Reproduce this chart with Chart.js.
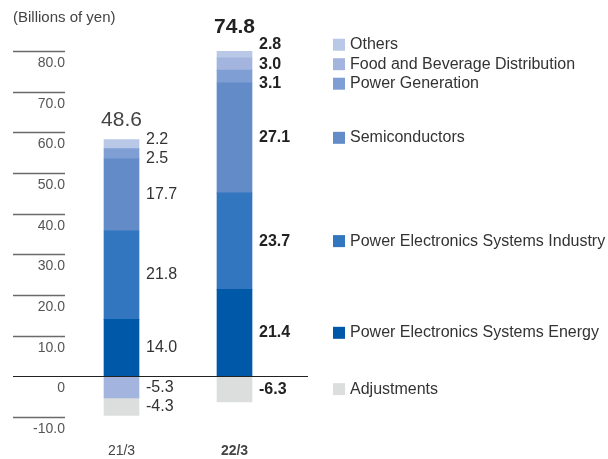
<!DOCTYPE html>
<html>
<head>
<meta charset="utf-8">
<script src="https://cdn.jsdelivr.net/npm/chart.js@4"></script>
<style>
  html, body { margin: 0; padding: 0; background: #fff; }
</style>
</head>
<body>
<canvas id="chart" width="608" height="459"></canvas>
<script>
// data
var categories = ['21/3', '22/3'];
var energy = [14.0, 21.4];
var industry = [21.8, 23.7];
var semis = [17.7, 27.1];
var powerGen = [2.5, 3.1];
var food = [-5.3, 3.0];
var others = [2.2, 2.8];
var adjustments = [-4.3, -6.3];
var totals = [48.6, 74.8];
var yTicks = [80, 70, 60, 50, 40, 30, 20, 10, 0, -10];

var FONT = '"Liberation Sans", Arial, sans-serif';

// spread labels so they don't overlap (cluster relaxation)
function spread(items, gap) {
    items.sort(function (a, b) { return a.want - b.want; });
    var clusters = [];
    items.forEach(function (it) {
        clusters.push({ items: [it], sum: it.want });
        while (clusters.length > 1) {
            var c = clusters[clusters.length - 1];
            var p = clusters[clusters.length - 2];
            var cTop = c.sum / c.items.length - (c.items.length - 1) * gap / 2;
            var pTop = p.sum / p.items.length - (p.items.length - 1) * gap / 2;
            if (pTop + p.items.length * gap > cTop) {
                p.items = p.items.concat(c.items);
                p.sum += c.sum;
                clusters.pop();
            } else break;
        }
    });
    clusters.forEach(function (c) {
        var top = c.sum / c.items.length - (c.items.length - 1) * gap / 2;
        c.items.forEach(function (it, k) { it.y = top + k * gap; });
    });
}

var labelPlugin = {
    id: 'labels',
    afterDatasetsDraw: function (chart) {
        var ctx = chart.ctx;
        var y = chart.scales.y;
        var area = chart.chartArea;
        ctx.save();

        // unit title
        ctx.fillStyle = '#444';
        ctx.font = '15px ' + FONT;
        ctx.textAlign = 'left';
        ctx.textBaseline = 'middle';
        ctx.fillText('(Billions of yen)', 13, 18);

        // short tick lines with labels beneath
        yTicks.forEach(function (t) {
            var py = Math.round(y.getPixelForValue(t)) + 0.5;
            ctx.strokeStyle = t === 0 ? '#222' : '#6a6a6a';
            ctx.lineWidth = t === 0 ? 1 : 1.4;
            ctx.beginPath();
            ctx.moveTo(13, py);
            ctx.lineTo(t === 0 ? 308 : 65, py);
            ctx.stroke();
            ctx.fillStyle = '#555';
            ctx.font = '14px ' + FONT;
            ctx.textAlign = 'right';
            ctx.textBaseline = 'middle';
            ctx.fillText(t === 0 ? '0' : t.toFixed(1), 65, py + 12);
        });

        var legendYs = [];
        categories.forEach(function (cat, i) {
            var bold = i === categories.length - 1;
            var pos = [], neg = [];
            var barX = 0, barW = 0, topY = area.bottom;
            chart.data.datasets.forEach(function (ds, d) {
                var el = chart.getDatasetMeta(d).data[i];
                var v = ds.data[i];
                barX = el.x; barW = el.width;
                topY = Math.min(topY, el.y, el.base);
                var item = { d: d, v: v, want: (el.y + el.base) / 2 };
                (v >= 0 ? pos : neg).push(item);
            });
            spread(pos, 19.5);
            spread(neg, 19.5);
            ctx.font = (bold ? 'bold ' : '') + '16px ' + FONT;
            ctx.fillStyle = bold ? '#222' : '#333';
            ctx.textAlign = 'left';
            ctx.textBaseline = 'middle';
            pos.concat(neg).forEach(function (it) {
                ctx.fillText(it.v.toFixed(1), barX + barW / 2 + 7, it.y);
                if (bold) legendYs[it.d] = it.y;
            });

            // total on top
            ctx.textAlign = 'center';
            ctx.textBaseline = 'alphabetic';
            ctx.font = (bold ? 'bold 21px ' : '21px ') + FONT;
            ctx.fillStyle = bold ? '#222' : '#444';
            ctx.fillText(totals[i].toFixed(1), barX, topY - 14);

            // category label
            ctx.font = (bold ? 'bold ' : '') + '14px ' + FONT;
            ctx.fillStyle = '#444';
            ctx.textBaseline = 'middle';
            ctx.fillText(cat, barX, 451);
        });

        // legend aligned with last bar's labels
        chart.data.datasets.forEach(function (ds, d) {
            var ly = legendYs[d];
            ctx.fillStyle = ds.backgroundColor;
            ctx.fillRect(333, ly - 6, 12, 12);
            ctx.fillStyle = '#333';
            ctx.font = '16px ' + FONT;
            ctx.textAlign = 'left';
            ctx.textBaseline = 'middle';
            ctx.fillText(ds.label, 350, ly);
        });
        ctx.restore();
    }
};

new Chart(document.getElementById('chart'), {
    type: 'bar',
    data: {
        labels: categories,
        datasets: [
            { label: 'Power Electronics Systems Energy', data: energy, backgroundColor: '#0058a9' },
            { label: 'Power Electronics Systems Industry', data: industry, backgroundColor: '#3176bf' },
            { label: 'Semiconductors', data: semis, backgroundColor: '#628bc8' },
            { label: 'Power Generation', data: powerGen, backgroundColor: '#7f9ed4' },
            { label: 'Food and Beverage Distribution', data: food, backgroundColor: '#a3b5de' },
            { label: 'Others', data: others, backgroundColor: '#bac8e8' },
            { label: 'Adjustments', data: adjustments, backgroundColor: '#dcdedd' }
        ]
    },
    options: {
        responsive: false,
        animation: false,
        layout: { padding: { top: 51, bottom: 42, left: 65, right: 317 } },
        plugins: { legend: { display: false }, tooltip: { enabled: false } },
        scales: {
            x: { stacked: true, display: false },
            y: { stacked: true, display: false, min: -10, max: 80 }
        },
        datasets: { bar: { barThickness: 35 } }
    },
    plugins: [labelPlugin]
});
</script>
</body>
</html>
